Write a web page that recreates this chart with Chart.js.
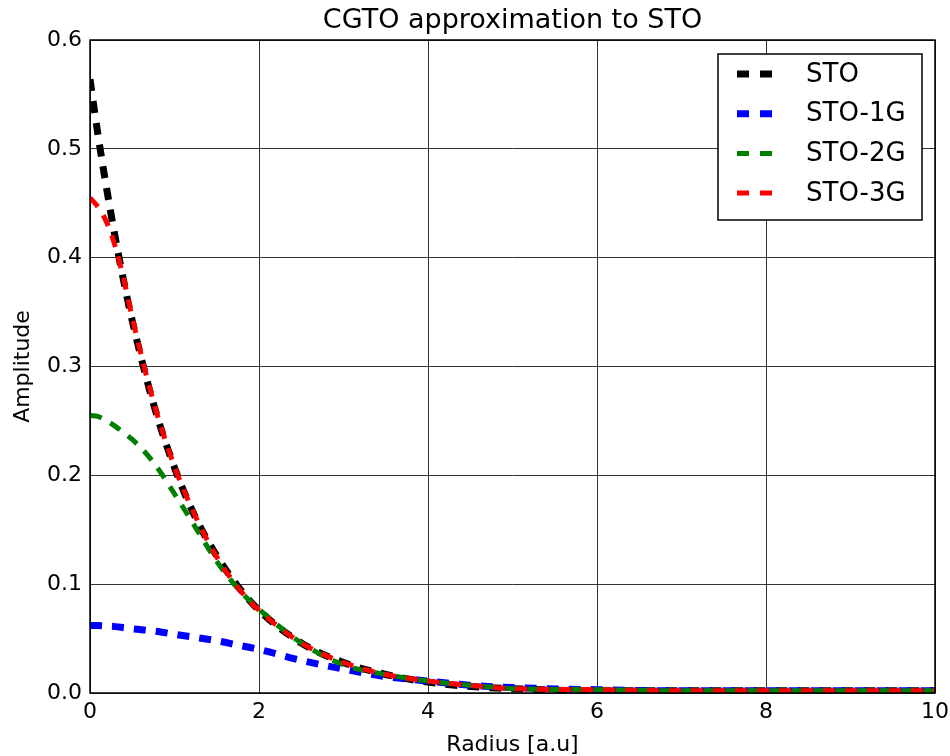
<!DOCTYPE HTML>
<html>
<head>
    <title>CGTO approximation to STO</title>
    <script src="https://cdn.jsdelivr.net/npm/chart.js@4/dist/chart.umd.min.js"></script>
    <style>
        html, body { margin: 0; padding: 0; background: #fff; }
        canvas { display: block; }
    </style>
</head>
<body>
<canvas id="cgto" width="950" height="756"></canvas>
<script>
    // radius [a.u] sample points, shared by all curves
    var radius = [0, 0.1, 0.2, 0.3, 0.4, 0.5, 0.75, 1, 1.25, 1.5, 1.75, 2, 2.5, 3, 3.5, 4, 4.5, 5, 6, 7, 8, 9, 10];

    var sto   = [0.564, 0.510, 0.462, 0.418, 0.378, 0.342, 0.266, 0.207, 0.161, 0.126, 0.098, 0.076, 0.046, 0.028, 0.017, 0.010, 0.006, 0.004, 0.002, 0.002, 0.002, 0.002, 0.002];
    var sto1g = [0.062, 0.062, 0.0615, 0.061, 0.060, 0.059, 0.057, 0.054, 0.051, 0.048, 0.044, 0.040, 0.030, 0.022, 0.015, 0.011, 0.007, 0.005, 0.003, 0.002, 0.002, 0.002, 0.002];
    var sto2g = [0.255, 0.254, 0.250, 0.245, 0.239, 0.233, 0.212, 0.183, 0.152, 0.121, 0.096, 0.077, 0.046, 0.026, 0.017, 0.011, 0.007, 0.004, 0.003, 0.002, 0.002, 0.002, 0.002];
    var sto3g = [0.455, 0.446, 0.432, 0.410, 0.380, 0.345, 0.268, 0.208, 0.162, 0.125, 0.097, 0.076, 0.046, 0.028, 0.017, 0.011, 0.007, 0.004, 0.003, 0.002, 0.002, 0.002, 0.002];

    var seriesNames = ["STO", "STO-1G", "STO-2G", "STO-3G"];
    var seriesValues = [sto, sto1g, sto2g, sto3g];
    var seriesColors = ["#000000", "#0000ff", "#008000", "#ff0000"];
    var seriesWidths = [7, 7, 5, 5];

    var xTicks = [0, 2, 4, 6, 8, 10];
    var yTicks = [0.0, 0.1, 0.2, 0.3, 0.4, 0.5, 0.6];

    var font = "'DejaVu Sans', sans-serif";

    var toPoints = function(values) {
        var pts = [];
        for (var i in radius) {
            pts.push({x: radius[i], y: values[i]});
        }
        return pts;
    };

    var datasets = [];
    for (var i = 0; i < seriesNames.length; i++) {
        datasets.push({
            label: seriesNames[i],
            data: toPoints(seriesValues[i]),
            borderColor: seriesColors[i],
            backgroundColor: seriesColors[i],
            borderWidth: seriesWidths[i],
            borderDash: [12, 10],
            borderCapStyle: "butt",
            pointRadius: 0,
            fill: false,
            cubicInterpolationMode: "monotone",
            order: seriesNames.length - 1 - i   // last series on top, like the original
        });
    }

    // frame around the axes + legend box in the upper right of the plot
    var frameAndLegend = {
        id: "frameAndLegend",
        afterDatasetsDraw: function(chart) {
            var ctx = chart.ctx;
            var a = chart.chartArea;
            ctx.save();
            ctx.strokeStyle = "#000";
            ctx.lineWidth = 1.5;
            ctx.setLineDash([]);
            ctx.strokeRect(a.left, a.top, a.right - a.left, a.bottom - a.top);

            var boxW = 204, boxH = 166;
            var bx = a.right - 13 - boxW, by = a.top + 14;
            ctx.fillStyle = "#fff";
            ctx.fillRect(bx, by, boxW, boxH);
            ctx.strokeRect(bx, by, boxW, boxH);

            ctx.font = "26px " + font;
            ctx.textBaseline = "middle";
            ctx.textAlign = "left";
            chart.data.datasets.forEach(function(ds, k) {
                var y = by + 20 + k * 39.7;
                ctx.beginPath();
                ctx.strokeStyle = ds.borderColor;
                ctx.lineWidth = ds.borderWidth;
                ctx.lineCap = "butt";
                ctx.setLineDash([12, 11]);
                ctx.moveTo(bx + 19, y);
                ctx.lineTo(bx + 54, y);
                ctx.stroke();
                ctx.setLineDash([]);
                ctx.fillStyle = "#000";
                ctx.fillText(ds.label, bx + 88, y + 1);
            });
            ctx.restore();
        }
    };

    new Chart(document.getElementById("cgto"), {
        type: "line",
        data: { datasets: datasets },
        options: {
            responsive: false,
            animation: false,
            devicePixelRatio: 1,
            layout: { padding: { left: 0, right: 15, top: 0, bottom: 0 } },
            plugins: {
                legend: { display: false },
                tooltip: { enabled: false },
                title: {
                    display: true,
                    text: "CGTO approximation to STO",
                    fullSize: false,
                    color: "#000",
                    font: { family: font, size: 27, weight: "normal", lineHeight: 1 },
                    padding: { top: 7, bottom: 6 }
                }
            },
            scales: {
                x: {
                    type: "linear",
                    min: 0,
                    max: 10,
                    afterBuildTicks: function(scale) {
                        scale.ticks = xTicks.map(function(v) { return {value: v}; });
                    },
                    afterFit: function(scale) {
                        scale.height = 63;
                        scale.paddingLeft = 0;
                        scale.paddingRight = 0;
                    },
                    ticks: {
                        color: "#000",
                        padding: 6,
                        maxRotation: 0,
                        font: { family: font, size: 22 },
                        callback: function(v) { return String(v); }
                    },
                    grid: { color: "rgba(0,0,0,0.8)", lineWidth: 1, drawTicks: false },
                    border: { display: false },
                    title: {
                        display: true,
                        text: "Radius [a.u]",
                        color: "#000",
                        font: { family: font, size: 22, lineHeight: 1 },
                        padding: { top: 0, bottom: 0 }
                    }
                },
                y: {
                    type: "linear",
                    min: 0,
                    max: 0.6,
                    afterBuildTicks: function(scale) {
                        scale.ticks = yTicks.map(function(v) { return {value: v}; });
                    },
                    afterFit: function(scale) {
                        scale.width = 90;
                        scale.paddingTop = 0;
                        scale.paddingBottom = 0;
                    },
                    ticks: {
                        color: "#000",
                        padding: 8,
                        font: { family: font, size: 22 },
                        callback: function(v) { return Number(v).toFixed(1); }
                    },
                    grid: { color: "rgba(0,0,0,0.8)", lineWidth: 1, drawTicks: false },
                    border: { display: false },
                    title: {
                        display: true,
                        text: "Amplitude",
                        color: "#000",
                        font: { family: font, size: 22, lineHeight: 1 },
                        padding: { top: 12, bottom: 0 }
                    }
                }
            }
        },
        plugins: [frameAndLegend]
    });
</script>
</body>
</html>
